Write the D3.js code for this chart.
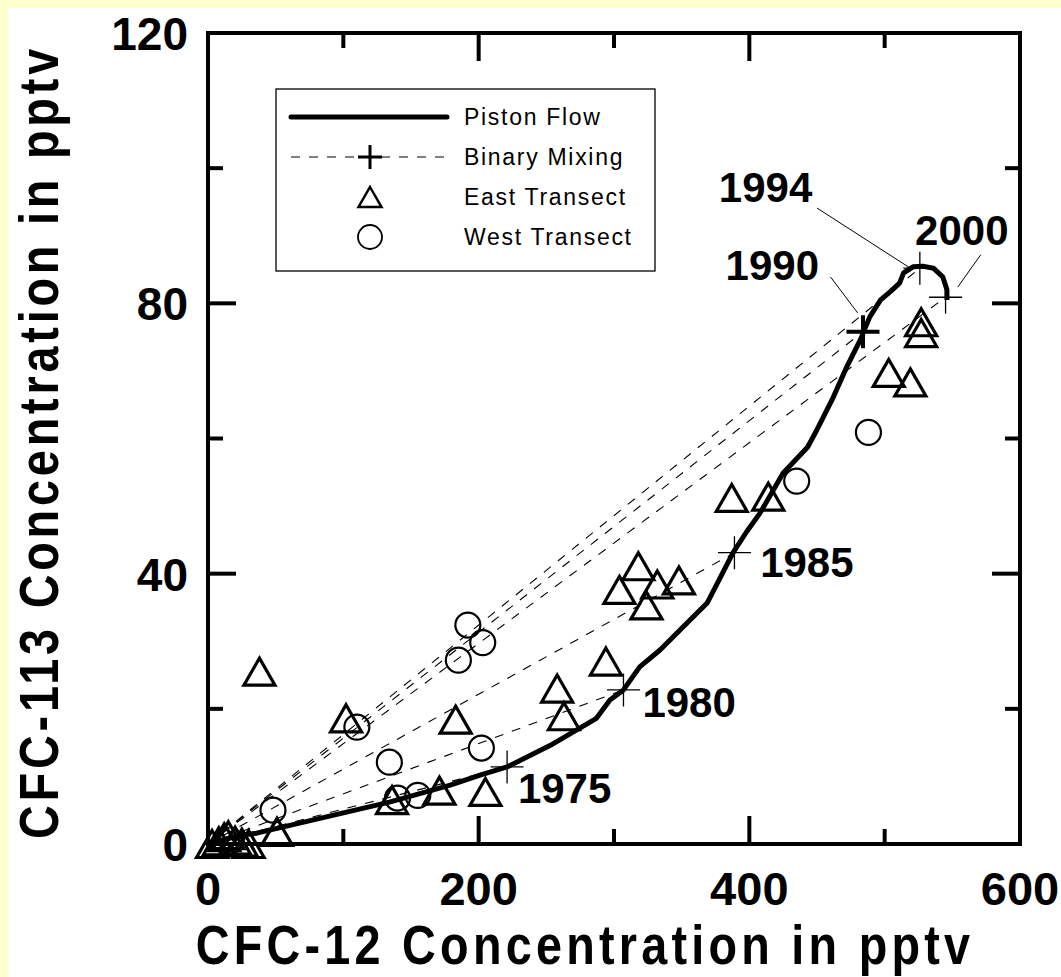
<!DOCTYPE html>
<html>
<head>
<meta charset="utf-8">
<script src="https://cdn.jsdelivr.net/npm/d3@7"></script>
<style>
body { margin:0; background:#ffffcc; }
svg { display:block; }
text { font-family: "Liberation Sans", Arial, sans-serif; fill:#000; }
</style>
</head>
<body>
<div id="plot"></div>
<script>
// piston flow curve, [CFC-12, CFC-113] in pptv
var pistonFlow = [[0,0],[24,1.3],[36,1.6],[134,6.2],[179,8.7],[201,10.2],[221,11.4],[253,14.6],
	[287,18.6],[297,21.3],[307,22.8],[319,26.2],[334,28.7],[351,32.1],[369,35.7],[388,43.1],
	[398,46.2],[408,49],[425,54.9],[443,58.7],[450,61.3],[462,66.1],[472,70.6],[482,74.6],
	[489,78],[497,80.5],[504,81.7],[511,83],[514,84.5],[521,85.4],[528,85.5],[536,85.2],
	[543,83.9],[546,82],[546,80.5]];

// binary mixing end members (recharge year)
var mixYears = ['1975','1980','1985','1990','1994','2000'];
var mixCFC12 = [221, 307, 389, 484, 526, 545];
var mixCFC113 = [11.4, 22.8, 43.1, 75.8, 85.2, 80.9];

var eastTransect = [[38,25.5],[102,18.6],[183,18.4],[136,6.5],[171,7.9],[205,7.7],[51,1.8],
	[387,51.2],[414,51.4],[318,41.1],[304,37.6],[332,38.4],[348,39.0],[324,35.3],
	[294,27.0],[258,23.0],[263,18.9],[527,77.2],[527,75.6],[503,69.7],[519,68.3],
	[3,0],[8,0.4],[12,1.0],[15,1.3],[20,0.5],[25,0.2],[30,0]];

var westTransect = [[192,32.4],[203,29.8],[185,27.2],[110,17.3],[134,12.1],[202,14.2],
	[140,6.8],[155,7.2],[48,5.0],[435,53.7],[488,60.9]];

var xMajor = [0,200,400,600], xMinor = [100,300,500];
var yMajor = [0,40,80,120], yMinor = [20,60,100];

var legendLabels = ['Piston Flow','Binary Mixing','East Transect','West Transect'];

// year label anchors (data units) and leader lines
var yearLabelPos = [[229,6.1,'start'],[321,18.8,'start'],[408,39.5,'start'],
	[417,83.5,'middle'],[412,95.0,'middle'],[557,88.6,'middle']];
var leaders = [[[460,83.9],[480,78.6]],[[450,94.1],[519,85.2]],[[571,87.2],[554,82.4]]];

var W = 1061, H = 977;
var svg = d3.select('#plot').append('svg').attr('width', W).attr('height', H);
svg.append('rect').attr('x',8).attr('y',8).attr('width',W).attr('height',H).attr('fill','#fff');

var x = d3.scaleLinear().domain([0,600]).range([208,1020]);
var y = d3.scaleLinear().domain([0,120]).range([844,33]);

function tri(w, h){
	return 'M0,'+(-h/2)+'L'+(w/2)+','+(h/2)+'L'+(-w/2)+','+(h/2)+'Z';
}
function cross(s){
	return 'M'+(-s)+',0H'+s+'M0,'+(-s)+'V'+s;
}

// binary mixing dashed lines from old water (origin)
var plot = svg.append('g');
mixYears.forEach(function(yr, i){
	plot.append('line')
		.attr('x1', x(0)).attr('y1', y(0))
		.attr('x2', x(mixCFC12[i])).attr('y2', y(mixCFC113[i]))
		.attr('stroke','#000').attr('stroke-width',1.1)
		.attr('stroke-dasharray','9,9');
});

// piston flow
var line = d3.line().x(function(d){ return x(d[0]); }).y(function(d){ return y(d[1]); });
plot.append('path').datum(pistonFlow).attr('d', line)
	.attr('fill','none').attr('stroke','#000').attr('stroke-width',5)
	.attr('stroke-linejoin','round');

// crosses
mixYears.forEach(function(yr, i){
	plot.append('path')
		.attr('transform','translate('+x(mixCFC12[i])+','+y(mixCFC113[i])+')')
		.attr('d', cross(16.5))
		.attr('fill','none').attr('stroke','#000')
		.attr('stroke-width', yr === '1990' ? 4 : 1.3);
});

// scatter
plot.selectAll('.east').data(eastTransect).enter().append('path')
	.attr('class','east')
	.attr('transform', function(d){ return 'translate('+x(d[0])+','+y(d[1])+')'; })
	.attr('d', tri(31, 27))
	.attr('fill','none').attr('stroke','#000').attr('stroke-width',3.2);

plot.selectAll('.west').data(westTransect).enter().append('circle')
	.attr('class','west')
	.attr('cx', function(d){ return x(d[0]); })
	.attr('cy', function(d){ return y(d[1]); })
	.attr('r', 12.5)
	.attr('fill','none').attr('stroke','#000').attr('stroke-width',2.2);

// leader lines + year labels
leaders.forEach(function(l){
	plot.append('line')
		.attr('x1', x(l[0][0])).attr('y1', y(l[0][1]))
		.attr('x2', x(l[1][0])).attr('y2', y(l[1][1]))
		.attr('stroke','#000').attr('stroke-width',1);
});
mixYears.forEach(function(yr, i){
	var p = yearLabelPos[i];
	plot.append('text')
		.attr('x', x(p[0])).attr('y', y(p[1]))
		.attr('text-anchor', p[2])
		.style('font-size','42px').style('font-weight','bold')
		.text(yr);
});

// frame and ticks
var axes = svg.append('g');
axes.append('rect').attr('x', x(0)).attr('y', y(120))
	.attr('width', x(600)-x(0)).attr('height', y(0)-y(120))
	.attr('fill','none').attr('stroke','#000').attr('stroke-width',4);

function ticks(vals, len){
	vals.forEach(function(v){
		axes.append('line').attr('x1',x(v)).attr('x2',x(v)).attr('y1',y(0)).attr('y2',y(0)-len)
			.attr('stroke','#000').attr('stroke-width',4);
		axes.append('line').attr('x1',x(v)).attr('x2',x(v)).attr('y1',y(120)).attr('y2',y(120)+len)
			.attr('stroke','#000').attr('stroke-width',4);
	});
}
function yticks(vals, len){
	vals.forEach(function(v){
		axes.append('line').attr('y1',y(v)).attr('y2',y(v)).attr('x1',x(0)).attr('x2',x(0)+len)
			.attr('stroke','#000').attr('stroke-width',4);
		axes.append('line').attr('y1',y(v)).attr('y2',y(v)).attr('x1',x(600)).attr('x2',x(600)-len)
			.attr('stroke','#000').attr('stroke-width',4);
	});
}
ticks(xMajor, 28); ticks(xMinor, 15);
yticks(yMajor, 28); yticks(yMinor, 15);

axes.selectAll('.xl').data(xMajor).enter().append('text')
	.attr('x', function(d){ return x(d); }).attr('y', 905)
	.attr('text-anchor','middle')
	.style('font-size','47px').style('font-weight','bold')
	.text(function(d){ return d; });

axes.selectAll('.yl').data(yMajor).enter().append('text')
	.attr('x', 188).attr('y', function(d){ return y(d) + 17; })
	.attr('text-anchor','end')
	.style('font-size','46px').style('font-weight','bold')
	.text(function(d){ return d; });

// axis titles: narrow glyphs, wide tracking like the original
svg.append('text')
	.attr('transform','translate(585,964) scale(0.85,1)')
	.attr('text-anchor','middle')
	.style('font-size','55px').style('font-weight','bold').style('letter-spacing','5px')
	.text('CFC-12 Concentration in pptv');

svg.append('text')
	.attr('transform','translate(58,442) rotate(-90) scale(0.85,1)')
	.attr('text-anchor','middle')
	.style('font-size','55px').style('font-weight','bold').style('letter-spacing','4.5px')
	.text('CFC-113 Concentration in pptv');

// legend
var lg = svg.append('g');
lg.append('rect').attr('x',276).attr('y',89).attr('width',379).attr('height',182)
	.attr('fill','#fff').attr('stroke','#000').attr('stroke-width',1.3);
var rows = [117, 157, 197, 237];
lg.append('line').attr('x1',291).attr('x2',447).attr('y1',rows[0]).attr('y2',rows[0])
	.attr('stroke','#000').attr('stroke-width',5).attr('stroke-linecap','round');
lg.append('line').attr('x1',291).attr('x2',447).attr('y1',rows[1]).attr('y2',rows[1])
	.attr('stroke','#000').attr('stroke-width',1.1).attr('stroke-dasharray','9,9');
lg.append('path').attr('transform','translate(370,'+rows[1]+')').attr('d', cross(12))
	.attr('stroke','#000').attr('stroke-width',3);
lg.append('path').attr('transform','translate(370,'+rows[2]+')').attr('d', tri(23, 20))
	.attr('fill','none').attr('stroke','#000').attr('stroke-width',2.5);
lg.append('circle').attr('cx',370).attr('cy',rows[3]).attr('r',12)
	.attr('fill','none').attr('stroke','#000').attr('stroke-width',1.8);
lg.selectAll('.lt').data(legendLabels).enter().append('text')
	.attr('x', 464).attr('y', function(d,i){ return rows[i] + 8; })
	.style('font-size','23px').style('letter-spacing','1.7px')
	.text(function(d){ return d; });
</script>
</body>
</html>
